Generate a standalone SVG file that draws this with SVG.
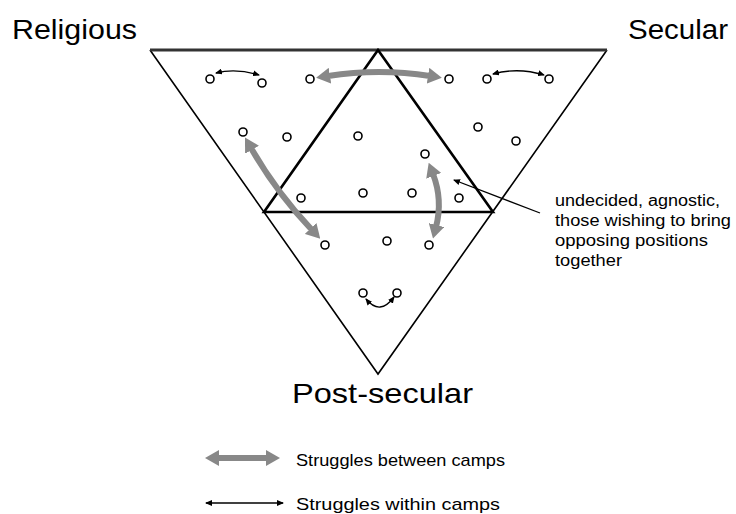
<svg xmlns="http://www.w3.org/2000/svg" width="736" height="514" viewBox="0 0 736 514">
<style>
.lbl{font-family:"Liberation Sans",Arial,sans-serif;fill:#000}
.outer{fill:none;stroke:#000;stroke-width:1.6}
.top{stroke:#333;stroke-width:3}
.inner{fill:none;stroke:#000;stroke-width:2.6;stroke-linejoin:miter}
.g{fill:none;stroke:#888;stroke-width:6;marker-start:url(#gh);marker-end:url(#gh)}
.k{fill:none;stroke:#000;stroke-width:1.3;marker-start:url(#kh);marker-end:url(#kh)}
.pt{fill:#fff;stroke:#000;stroke-width:1.6}
</style>
<defs>
<marker id="gh" markerUnits="userSpaceOnUse" viewBox="0 0 14 16" markerWidth="14" markerHeight="16" refX="2" refY="8" orient="auto-start-reverse"><path d="M0,0 L14,8 L0,16 z" fill="#888"/></marker>
<marker id="kh" markerUnits="userSpaceOnUse" viewBox="0 0 7 6" markerWidth="7" markerHeight="6" refX="6" refY="3" orient="auto-start-reverse"><path d="M0,0 L7,3 L0,6 z" fill="#000"/></marker>
</defs>
<rect width="736" height="514" fill="#fff"/>
<g id="triangle">
<path class="outer" d="M150,50 L378,374 L607,50"/>
<line class="top" x1="150" y1="50" x2="607" y2="50"/>
<path class="inner" d="M378,50 L264,212 L493,212 Z"/>
</g>
<g id="connectors">
<path class="g" d="M328,76 Q379,68 430,76"/>
<path class="g" d="M251,148 Q277,193 312,230"/>
<path class="g" d="M433,174 Q443,200 436,227"/>
<path class="k" d="M216,73 Q236,68 259,75"/>
<path class="k" d="M493,74 Q518,67 544,75"/>
<path class="k" d="M366,299 Q380,316 394,297"/>
<path fill="none" stroke="#000" stroke-width="1.3" marker-end="url(#kh)" d="M540,213 L454,180"/>
</g>
<g id="points">
<circle class="pt" cx="210" cy="79" r="4"/>
<circle class="pt" cx="262" cy="83" r="4"/>
<circle class="pt" cx="310" cy="79" r="4"/>
<circle class="pt" cx="449" cy="79" r="4"/>
<circle class="pt" cx="487" cy="79" r="4"/>
<circle class="pt" cx="549" cy="79" r="4"/>
<circle class="pt" cx="243" cy="132" r="4"/>
<circle class="pt" cx="287" cy="137" r="4"/>
<circle class="pt" cx="358" cy="136" r="4"/>
<circle class="pt" cx="301" cy="198" r="4"/>
<circle class="pt" cx="363" cy="193" r="4"/>
<circle class="pt" cx="325" cy="245" r="4"/>
<circle class="pt" cx="478" cy="127" r="4"/>
<circle class="pt" cx="516" cy="141" r="4"/>
<circle class="pt" cx="425" cy="154" r="4"/>
<circle class="pt" cx="412" cy="193" r="4"/>
<circle class="pt" cx="459" cy="198" r="4"/>
<circle class="pt" cx="387" cy="241" r="4"/>
<circle class="pt" cx="429" cy="245" r="4"/>
<circle class="pt" cx="363" cy="293" r="4"/>
<circle class="pt" cx="397" cy="293" r="4"/>
</g>
<g id="label-religious"><text class="lbl" x="12" y="39" font-size="27" textLength="125" lengthAdjust="spacingAndGlyphs">Religious</text></g>
<g id="label-secular"><text class="lbl" x="628" y="39" font-size="27" textLength="100" lengthAdjust="spacingAndGlyphs">Secular</text></g>
<g id="label-postsecular"><text class="lbl" x="292" y="403" font-size="28" textLength="181" lengthAdjust="spacingAndGlyphs">Post-secular</text></g>
<g id="annotation">
<text class="lbl" x="555" y="206" font-size="16" textLength="165" lengthAdjust="spacingAndGlyphs">undecided, agnostic,</text>
<text class="lbl" x="555" y="226" font-size="16" textLength="176" lengthAdjust="spacingAndGlyphs">those wishing to bring</text>
<text class="lbl" x="555" y="246" font-size="16" textLength="153" lengthAdjust="spacingAndGlyphs">opposing positions</text>
<text class="lbl" x="555" y="266" font-size="16" textLength="67" lengthAdjust="spacingAndGlyphs">together</text>
</g>
<g id="legend">
<path class="g" d="M217,458 L268,458"/>
<text class="lbl" x="296" y="466" font-size="17" textLength="209" lengthAdjust="spacingAndGlyphs">Struggles between camps</text>
<path class="k" d="M206,503 L283,503"/>
<text class="lbl" x="296" y="510" font-size="17" textLength="204" lengthAdjust="spacingAndGlyphs">Struggles within camps</text>
</g>
</svg>
